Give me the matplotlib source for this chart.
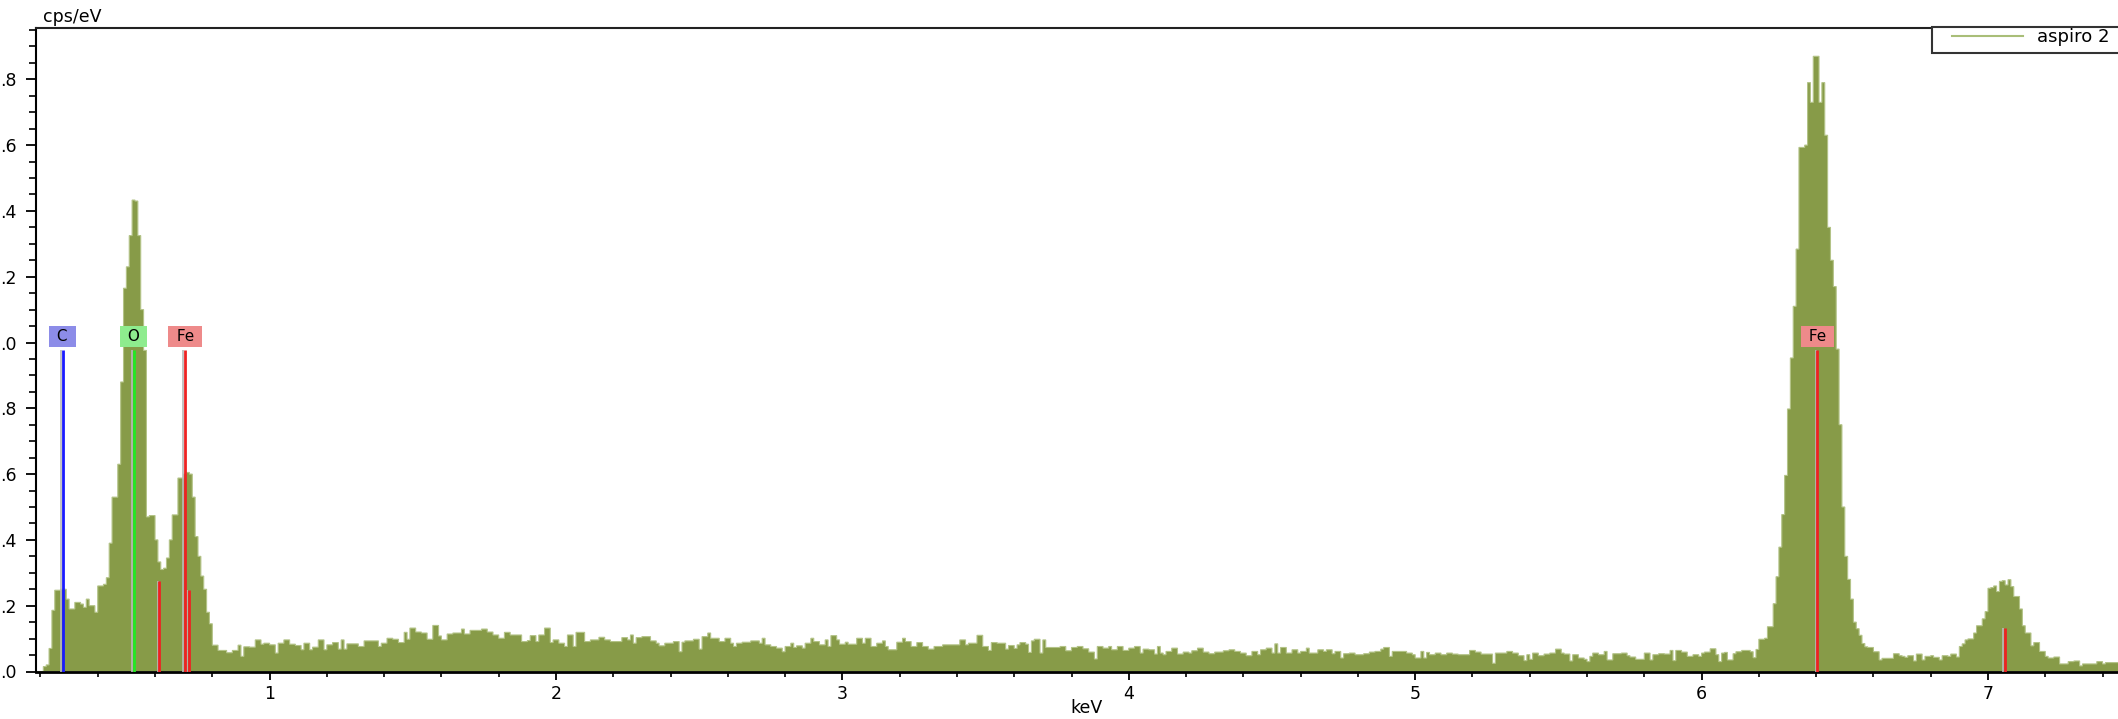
import numpy as np
import matplotlib
matplotlib.use("Agg")
import matplotlib.pyplot as plt
from matplotlib.patches import Rectangle
from matplotlib.lines import Line2D
from matplotlib import transforms
from matplotlib.ticker import MultipleLocator, FormatStrFormatter, FuncFormatter

# ---------------- data ----------------
E_START = 0.17      # keV, lower edge of first channel
CH_WIDTH = 0.01     # keV per channel

counts = [
    0, 0, 0,
    0, 0.015, 0.02, 0.07, 0.186, 0.247, 0.247, 0.25, 0.25, 0.22,
    0.19, 0.19, 0.21, 0.21, 0.205, 0.195, 0.22, 0.2, 0.2, 0.18,
    0.26, 0.26, 0.265, 0.285, 0.39, 0.53, 0.53, 0.63, 0.88, 1.165,
    1.23, 1.325, 1.433, 1.43, 1.325, 1.10, 0.976, 0.47, 0.474, 0.474,
    0.40, 0.333, 0.31, 0.314, 0.345, 0.40, 0.476, 0.476, 0.588, 0.588,
    0.60, 0.605, 0.6, 0.53, 0.41, 0.35, 0.29, 0.25, 0.18, 0.145,
    0.08, 0.08, 0.064, 0.064, 0.064, 0.057, 0.057, 0.064, 0.064, 0.08,
    0.046, 0.075, 0.075, 0.074, 0.074, 0.096, 0.096, 0.083, 0.086, 0.086,
    0.081, 0.081, 0.056, 0.086, 0.086, 0.096, 0.096, 0.083, 0.083, 0.079,
    0.079, 0.066, 0.086, 0.086, 0.066, 0.074, 0.074, 0.096, 0.096, 0.066,
    0.081, 0.081, 0.088, 0.088, 0.068, 0.096, 0.068, 0.084, 0.084, 0.084,
    0.084, 0.076, 0.076, 0.093, 0.093, 0.093, 0.093, 0.093, 0.076, 0.086,
    0.086, 0.101, 0.101, 0.098, 0.098, 0.088, 0.088, 0.119, 0.098, 0.132,
    0.132, 0.12, 0.12, 0.117, 0.117, 0.098, 0.098, 0.14, 0.14, 0.108,
    0.096, 0.096, 0.114, 0.114, 0.117, 0.117, 0.117, 0.129, 0.114, 0.114,
    0.125, 0.125, 0.125, 0.125, 0.129, 0.129, 0.12, 0.12, 0.111, 0.111,
    0.101, 0.101, 0.119, 0.119, 0.111, 0.111, 0.111, 0.111, 0.091, 0.091,
    0.094, 0.109, 0.109, 0.091, 0.111, 0.111, 0.132, 0.132, 0.088, 0.096,
    0.096, 0.086, 0.086, 0.076, 0.111, 0.111, 0.076, 0.119, 0.119, 0.119,
    0.091, 0.091, 0.096, 0.096, 0.096, 0.104, 0.104, 0.096, 0.096, 0.091,
    0.091, 0.091, 0.091, 0.103, 0.103, 0.096, 0.111, 0.086, 0.103, 0.103,
    0.106, 0.106, 0.106, 0.093, 0.093, 0.086, 0.078, 0.078, 0.086, 0.086,
    0.086, 0.091, 0.091, 0.06, 0.089, 0.093, 0.093, 0.093, 0.098, 0.098,
    0.068, 0.106, 0.106, 0.117, 0.101, 0.101, 0.101, 0.091, 0.091, 0.101,
    0.101, 0.086, 0.076, 0.086, 0.086, 0.089, 0.089, 0.089, 0.093, 0.093,
    0.093, 0.086, 0.101, 0.081, 0.081, 0.076, 0.076, 0.071, 0.071, 0.06,
    0.076, 0.076, 0.086, 0.073, 0.078, 0.078, 0.071, 0.086, 0.086, 0.101,
    0.091, 0.091, 0.081, 0.081, 0.096, 0.076, 0.109, 0.109, 0.096, 0.083,
    0.083, 0.089, 0.083, 0.083, 0.083, 0.101, 0.101, 0.086, 0.101, 0.101,
    0.076, 0.076, 0.086, 0.086, 0.093, 0.076, 0.066, 0.066, 0.066, 0.089,
    0.089, 0.101, 0.091, 0.091, 0.076, 0.076, 0.088, 0.088, 0.076, 0.076,
    0.068, 0.068, 0.076, 0.076, 0.076, 0.081, 0.081, 0.081, 0.081, 0.081,
    0.081, 0.096, 0.096, 0.081, 0.086, 0.086, 0.086, 0.11, 0.11, 0.076,
    0.076, 0.064, 0.088, 0.088, 0.086, 0.086, 0.086, 0.068, 0.079, 0.079,
    0.07, 0.081, 0.088, 0.088, 0.083, 0.058, 0.093, 0.098, 0.098, 0.056,
    0.096, 0.073, 0.073, 0.073, 0.073, 0.073, 0.076, 0.076, 0.063, 0.063,
    0.073, 0.073, 0.076, 0.076, 0.069, 0.069, 0.059, 0.059, 0.038, 0.076,
    0.076, 0.071, 0.071, 0.076, 0.066, 0.066, 0.076, 0.076, 0.064, 0.064,
    0.071, 0.071, 0.076, 0.076, 0.056, 0.068, 0.068, 0.066, 0.066, 0.053,
    0.076, 0.056, 0.051, 0.061, 0.061, 0.071, 0.071, 0.053, 0.053, 0.059,
    0.059, 0.056, 0.063, 0.063, 0.071, 0.071, 0.059, 0.059, 0.054, 0.054,
    0.059, 0.059, 0.059, 0.063, 0.063, 0.066, 0.066, 0.061, 0.061, 0.056,
    0.056, 0.048, 0.048, 0.061, 0.061, 0.051, 0.066, 0.066, 0.071, 0.071,
    0.056, 0.084, 0.056, 0.073, 0.073, 0.056, 0.056, 0.066, 0.066, 0.056,
    0.061, 0.061, 0.071, 0.056, 0.056, 0.056, 0.066, 0.066, 0.061, 0.066,
    0.066, 0.054, 0.061, 0.061, 0.041, 0.054, 0.054, 0.056, 0.056, 0.051,
    0.051, 0.051, 0.054, 0.054, 0.059, 0.059, 0.061, 0.061, 0.068, 0.073,
    0.073, 0.046, 0.061, 0.061, 0.061, 0.061, 0.061, 0.056, 0.056, 0.051,
    0.041, 0.041, 0.061, 0.041, 0.058, 0.051, 0.051, 0.056, 0.056, 0.051,
    0.051, 0.056, 0.056, 0.053, 0.053, 0.051, 0.051, 0.051, 0.051, 0.064,
    0.064, 0.059, 0.059, 0.053, 0.053, 0.053, 0.053, 0.025, 0.056, 0.056,
    0.056, 0.056, 0.061, 0.061, 0.056, 0.056, 0.048, 0.048, 0.033, 0.051,
    0.037, 0.056, 0.056, 0.048, 0.048, 0.053, 0.053, 0.056, 0.056, 0.068,
    0.068, 0.056, 0.053, 0.053, 0.032, 0.051, 0.051, 0.041, 0.041, 0.037,
    0.03, 0.046, 0.056, 0.056, 0.051, 0.051, 0.061, 0.035, 0.035, 0.054,
    0.054, 0.054, 0.056, 0.056, 0.048, 0.044, 0.044, 0.037, 0.037, 0.037,
    0.056, 0.056, 0.035, 0.051, 0.051, 0.054, 0.054, 0.053, 0.053, 0.064,
    0.033, 0.064, 0.064, 0.059, 0.059, 0.046, 0.046, 0.051, 0.051, 0.046,
    0.056, 0.059, 0.059, 0.069, 0.069, 0.051, 0.03, 0.056, 0.058, 0.035,
    0.035, 0.054, 0.06, 0.06, 0.064, 0.064, 0.064, 0.06, 0.042, 0.067,
    0.098, 0.098, 0.101, 0.136, 0.136, 0.206, 0.288, 0.378, 0.477, 0.596,
    0.798, 0.953, 1.11, 1.284, 1.593, 1.593, 1.6, 1.79, 1.73, 1.87,
    1.87, 1.73, 1.79, 1.63, 1.35, 1.25, 1.17, 0.98, 0.75, 0.5,
    0.35, 0.28, 0.22, 0.15, 0.13, 0.11, 0.085, 0.075, 0.073, 0.073,
    0.06, 0.06, 0.035, 0.04, 0.04, 0.04, 0.04, 0.054, 0.054, 0.048,
    0.046, 0.043, 0.048, 0.048, 0.032, 0.053, 0.053, 0.035, 0.046, 0.046,
    0.048, 0.043, 0.043, 0.035, 0.048, 0.048, 0.046, 0.053, 0.053, 0.044,
    0.076, 0.084, 0.096, 0.099, 0.099, 0.117, 0.139, 0.139, 0.16, 0.182,
    0.253, 0.255, 0.26, 0.243, 0.274, 0.276, 0.263, 0.279, 0.258, 0.228,
    0.228, 0.19, 0.139, 0.117, 0.117, 0.078, 0.088, 0.088, 0.061, 0.061,
    0.046, 0.041, 0.041, 0.044, 0.044, 0.023, 0.023, 0.023, 0.03, 0.03,
    0.032, 0.032, 0.017, 0.023, 0.023, 0.023, 0.023, 0.023, 0.03, 0.03,
    0.023, 0.027, 0.027, 0.027, 0.027, 0.027,
]

# element marker lines (keV, height in cps/eV)
line_energy = [0.277, 0.525, 0.615, 0.705, 0.718, 6.404, 7.058]
line_height = [0.978, 0.978, 0.275, 0.978, 0.247, 0.978, 0.132]
line_element = ["C", "O", "Fe", "Fe", "Fe", "Fe", "Fe"]
line_labeled = [True, True, False, True, False, True, False]

element_line_color = {"C": "#1a1aff", "O": "#22e822", "Fe": "#ee2222"}
element_box_color = {"C": "#8c8ce8", "O": "#8eec8e", "Fe": "#ee8a8a"}

series_label = "aspiro 2"
x_label = "keV"
y_label = "cps/eV"

# ---------------- figure ----------------
W, H = 2118, 719
fig = plt.figure(figsize=(W / 100, H / 100), dpi=100)
fig.patch.set_facecolor("white")
FS = 12.5

left_px, right_px, top_px, bottom_px = 36, 2118, 28, 671.5
ax = fig.add_axes([left_px / W, 1 - bottom_px / H,
                   (right_px - left_px) / W, (bottom_px - top_px) / H])

px_per_kev = 286.4
x0 = 0.1844
ax.set_xlim(x0, x0 + (right_px - left_px) / px_per_kev)
ax.set_ylim(0, 1.956)

vals = np.array(counts, dtype=float)
edges = E_START + CH_WIDTH * np.arange(len(vals) + 1)
ax.stairs(vals, edges, fill=True, color="#879b48", zorder=2)
ax.stairs(vals, edges, fill=False, color="#b3c387", lw=0.8, zorder=2.1)

# element lines with grey shadow
shadow = transforms.offset_copy(ax.transData, fig=fig, x=-1.6, y=0, units="dots")
for e, h, el, lab in zip(line_energy, line_height, line_element, line_labeled):
    ax.plot([e, e], [0, h], color="#b8b8b8", lw=1.2, transform=shadow,
            zorder=3, solid_capstyle="butt")
    ax.plot([e, e], [0, h], color=element_line_color[el], lw=2.0,
            zorder=4, solid_capstyle="butt")
    if lab:
        ax.text(e, 1.019, " " + el + " ", ha="center", va="center",
                fontsize=11, color="black", zorder=5,
                bbox=dict(boxstyle="square,pad=0.2",
                          fc=element_box_color[el], ec="none"))

# axes styling
ax.spines["right"].set_visible(False)
ax.spines["left"].set_linewidth(1.5)
ax.spines["bottom"].set_linewidth(2.0)
ax.spines["top"].set_linewidth(1.5)
ax.spines["top"].set_color("#222222")

ax.xaxis.set_major_locator(MultipleLocator(1))
ax.xaxis.set_minor_locator(MultipleLocator(0.2))
ax.yaxis.set_major_locator(MultipleLocator(0.2))
ax.yaxis.set_minor_locator(MultipleLocator(0.05))
ax.xaxis.set_major_formatter(FormatStrFormatter("%d"))
# the screenshot only shows the decimal part of the y tick labels
ax.yaxis.set_major_formatter(FuncFormatter(lambda v, p: ("%.1f" % v)[1:]))

ax.tick_params(axis="y", which="major", direction="out", length=7, width=1.3,
               pad=7, labelsize=FS, left=True, right=False)
ax.tick_params(axis="y", which="minor", direction="out", length=5, width=1.2)
ax.tick_params(axis="x", which="major", direction="out", length=5.5, width=1.3,
               pad=4, labelsize=FS, top=False)
ax.tick_params(axis="x", which="minor", direction="out", length=3.5, width=1.2,
               top=False)

fig.text(43 / W, 1 - 17 / H, y_label, ha="left", va="center", fontsize=FS)
fig.text(1086 / W, 1 - 708 / H, x_label, ha="center", va="center", fontsize=FS)

# legend (partly beyond the right edge like the screenshot)
fig.patches.append(Rectangle((1932 / W, 1 - 53 / H), 200 / W, 26 / H,
                             transform=fig.transFigure, fc="white",
                             ec="#333333", lw=1.5, zorder=10))
fig.lines.append(Line2D([1952 / W, 2023 / W], [1 - 35.5 / H, 1 - 35.5 / H],
                        transform=fig.transFigure, color="#a9be78", lw=1.5,
                        zorder=11))
fig.text(2037 / W, 1 - 37.5 / H, series_label, ha="left", va="center",
         fontsize=13, zorder=12)

fig.savefig("out.png", dpi=100, facecolor="white")
